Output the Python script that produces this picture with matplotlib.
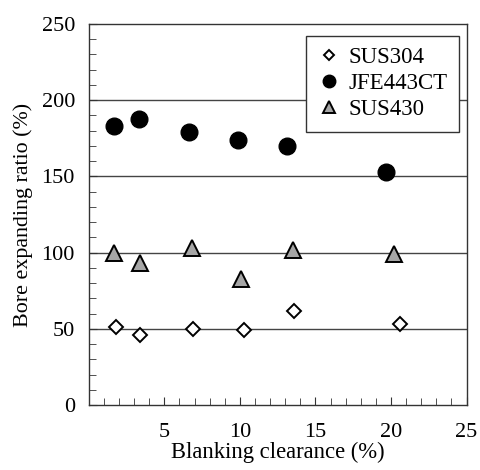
import matplotlib
matplotlib.use("Agg")
from matplotlib import pyplot as plt
from matplotlib.ticker import MultipleLocator

# Donnees
x_sus304 = [1.8, 3.4, 6.9, 10.3, 13.6, 20.6]
y_sus304 = [51, 46, 50, 49, 62, 53]

x_jfe = [1.7, 3.3, 6.6, 9.9, 13.1, 19.7]
y_jfe = [183, 188, 179, 174, 170, 153]

x_sus430 = [1.7, 3.4, 6.8, 10.1, 13.5, 20.2]
y_sus430 = [100, 93, 103, 83, 102, 99]

gridlines = [50, 100, 150, 200]

plt.rcParams['font.family'] = ['Liberation Serif', 'DejaVu Serif']

fig = plt.figure(figsize=(4.8, 4.7), dpi=100)
ax = fig.add_axes([0.185, 0.138, 0.787, 0.811])

for g in gridlines:
    ax.axhline(g, color='#444444', lw=1, zorder=1)

ax.plot(x_sus304, y_sus304, 'D', ms=6.8, mfc='white', mec='black', mew=1.4,
        ls='none', label='SUS304', zorder=3)
ax.plot(x_jfe, y_jfe, 'o', ms=12, mfc='black', mec='black',
        ls='none', label='JFE443CT', zorder=3)
ax.plot(x_sus430, y_sus430, '^', ms=12, mfc='#a6a6a6', mec='black', mew=1.4,
        ls='none', label='SUS430', zorder=3)

ax.set_xlim(0, 25)
ax.set_ylim(0, 250)
ax.set_xticks([5, 10, 15, 20, 25])
ax.set_yticks([0, 50, 100, 150, 200, 250])
ax.xaxis.set_minor_locator(MultipleLocator(1))
ax.yaxis.set_minor_locator(MultipleLocator(10))
ax.tick_params(which='both', direction='in', top=False, right=False,
               labelsize=16, color='#333333')
ax.tick_params(which='major', length=6)
ax.tick_params(which='minor', length=5)
ax.tick_params(axis='x', pad=13)
ax.tick_params(axis='y', pad=10)

for s in ax.spines.values():
    s.set_color('#333333')
    s.set_linewidth(1)

ax.set_xlabel("Blanking clearance (%)", fontsize=16.3, labelpad=0)
ax.set_ylabel("Bore expanding ratio (%)", fontsize=15.8, labelpad=6)

leg = ax.legend(loc='upper right', bbox_to_anchor=(0.98, 0.969), fontsize=16.5,
                frameon=True, fancybox=False, edgecolor='#333333',
                framealpha=1, markerscale=0.75, handletextpad=0.35,
                handlelength=1.0, borderpad=0.5, labelspacing=0.22,
                borderaxespad=0)
leg.get_frame().set_linewidth(1)

plt.savefig("out.png", dpi=100)
